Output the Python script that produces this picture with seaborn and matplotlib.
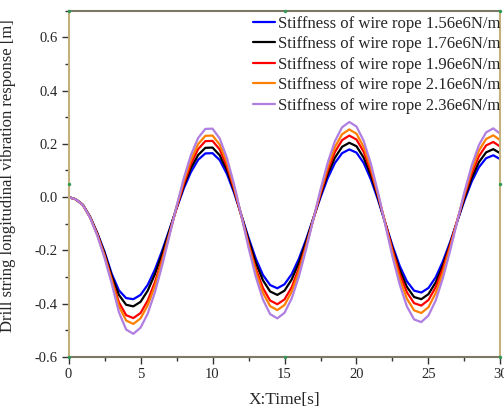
import numpy as np
import pandas as pd
import matplotlib
matplotlib.use("Agg")
import matplotlib.pyplot as plt
from matplotlib.ticker import MultipleLocator
import seaborn as sns

# ---- data ----
time_s = np.arange(0, 30.01, 0.5)

k156 = [0, -0.008, -0.029, -0.074, -0.135, -0.205, -0.288, -0.350, -0.379,
        -0.383, -0.367, -0.329, -0.272, -0.201, -0.123, -0.043, 0.032, 0.094, 0.140, 0.164,
        0.165, 0.139, 0.087, 0.016, -0.067, -0.152, -0.230, -0.292, -0.330,
        -0.342, -0.327, -0.289, -0.231, -0.159, -0.080, -0.001, 0.071, 0.128, 0.165, 0.179,
        0.167, 0.128, 0.066, -0.011, -0.097, -0.182, -0.258, -0.316, -0.351,
        -0.358, -0.341, -0.301, -0.241, -0.169, -0.090, -0.012, 0.058, 0.112, 0.146,
        0.157, 0.142]
k176 = [0, -0.008, -0.029, -0.075, -0.137, -0.210, -0.296, -0.367, -0.404,
        -0.410, -0.393, -0.351, -0.289, -0.212, -0.127, -0.040, 0.041, 0.109, 0.158, 0.185,
        0.186, 0.157, 0.101, 0.023, -0.068, -0.160, -0.245, -0.312, -0.354,
        -0.367, -0.351, -0.309, -0.246, -0.167, -0.080, 0.007, 0.086, 0.148, 0.189, 0.204,
        0.191, 0.148, 0.081, -0.004, -0.098, -0.191, -0.273, -0.337, -0.375,
        -0.383, -0.364, -0.320, -0.255, -0.176, -0.090, -0.005, 0.071, 0.131, 0.168,
        0.180, 0.164]
k196 = [0, -0.008, -0.030, -0.076, -0.140, -0.218, -0.308, -0.395, -0.443,
        -0.454, -0.435, -0.388, -0.319, -0.233, -0.138, -0.041, 0.049, 0.125, 0.180, 0.210,
        0.211, 0.179, 0.116, 0.030, -0.070, -0.173, -0.267, -0.341, -0.388,
        -0.402, -0.384, -0.338, -0.267, -0.180, -0.084, 0.013, 0.100, 0.169, 0.214, 0.231,
        0.216, 0.170, 0.097, 0.005, -0.097, -0.198, -0.288, -0.357, -0.398,
        -0.407, -0.386, -0.338, -0.268, -0.181, -0.087, 0.006, 0.088, 0.153, 0.194,
        0.207, 0.189]
k216 = [0, -0.008, -0.030, -0.077, -0.142, -0.221, -0.314, -0.409, -0.463,
        -0.476, -0.455, -0.406, -0.333, -0.241, -0.140, -0.037, 0.059, 0.140, 0.199, 0.230,
        0.231, 0.197, 0.130, 0.038, -0.069, -0.179, -0.279, -0.359, -0.409,
        -0.424, -0.405, -0.355, -0.280, -0.186, -0.083, 0.020, 0.113, 0.188, 0.236, 0.254,
        0.238, 0.188, 0.110, 0.010, -0.100, -0.209, -0.306, -0.381, -0.425,
        -0.435, -0.413, -0.360, -0.284, -0.190, -0.088, 0.013, 0.103, 0.174, 0.218,
        0.232, 0.213]
k236 = [0, -0.008, -0.030, -0.078, -0.145, -0.228, -0.325, -0.432, -0.497,
        -0.513, -0.490, -0.437, -0.357, -0.257, -0.147, -0.035, 0.070, 0.158, 0.222, 0.256,
        0.257, 0.220, 0.147, 0.047, -0.069, -0.189, -0.298, -0.384, -0.439,
        -0.455, -0.434, -0.380, -0.298, -0.196, -0.084, 0.028, 0.129, 0.210, 0.262, 0.282,
        0.265, 0.211, 0.125, 0.016, -0.104, -0.223, -0.328, -0.410, -0.459,
        -0.469, -0.444, -0.388, -0.304, -0.202, -0.090, 0.020, 0.118, 0.195, 0.243,
        0.258, 0.237]

labels = ["Stiffness of wire rope 1.56e6N/m",
          "Stiffness of wire rope 1.76e6N/m",
          "Stiffness of wire rope 1.96e6N/m",
          "Stiffness of wire rope 2.16e6N/m",
          "Stiffness of wire rope 2.36e6N/m"]
series = [k156, k176, k196, k216, k236]
colors = ["#0000ff", "#000000", "#ff0000", "#ff8000", "#b07ee0"]

x_label = "X:Time[s]"
y_label = "Drill string longitudinal vibration response [m]"

# ---- long-form table ----
frames = []
for lab, vals in zip(labels, series):
    frames.append(pd.DataFrame({"t": time_s, "v": vals, "k": lab}))
df = pd.concat(frames, ignore_index=True)

# ---- style ----
sns.set_style("ticks")
plt.rcParams["font.family"] = ["Liberation Serif", "DejaVu Serif"]
plt.rcParams["axes.unicode_minus"] = False
plt.rcParams["lines.solid_joinstyle"] = "round"

fig = plt.figure(figsize=(5.04, 4.08), dpi=100)
ax = fig.add_axes([0.136, 0.125, 0.857, 0.849])

sns.lineplot(data=df, x="t", y="v", hue="k", palette=colors,
             hue_order=labels, linewidth=1.6, ax=ax, legend=True)

ax.set_xlim(0, 30)
ax.set_ylim(-0.6, 0.7)
ax.xaxis.set_major_locator(MultipleLocator(5))
ax.xaxis.set_minor_locator(MultipleLocator(2.5))
ax.yaxis.set_major_locator(MultipleLocator(0.2))
ax.yaxis.set_minor_locator(MultipleLocator(0.1))
ax.yaxis.set_major_formatter(matplotlib.ticker.FormatStrFormatter("%.1f"))

ax.tick_params(which="major", direction="out", length=5, width=1,
               labelsize=10.5, color="#333333", pad=3)
ax.tick_params(which="minor", direction="out", length=3, width=1, color="#333333")
ax.tick_params(top=False, right=False, which="both")

for side in ["left", "right"]:
    ax.spines[side].set_color("#c3b07a")
    ax.spines[side].set_linewidth(1.5)
for side in ["top", "bottom"]:
    ax.spines[side].set_color("#7c7866")
    ax.spines[side].set_linewidth(1.5)
for side in ["top", "right"]:
    ax.spines[side].set_visible(True)

ax.set_xlabel(x_label, fontsize=12.5, labelpad=8)
ax.set_ylabel(y_label, fontsize=12)
ax.yaxis.set_label_coords(-0.122, 0.523)

leg = ax.legend(loc="upper right", frameon=False, fontsize=12,
                handlelength=1.3, handletextpad=0.2, labelspacing=0.27,
                borderaxespad=0.0, borderpad=0.1,
                bbox_to_anchor=(1.005, 0.99))
for line in leg.get_lines():
    line.set_linewidth(1.6)

# selection-handle dots of the original frame (axes fractions)
hx = [0, 0.5, 1, 0, 1, 0, 0.5, 1]
hy = [1, 1, 1, 0.5, 0.5, 0, 0, 0]
ax.scatter(hx, hy, s=6, color="#2f9a55", transform=ax.transAxes,
           clip_on=False, zorder=5, linewidths=0)

fig.savefig("out.png", dpi=100)
